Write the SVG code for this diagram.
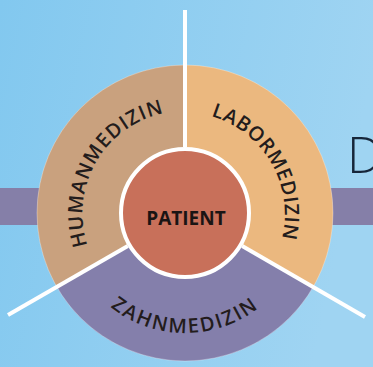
<svg xmlns="http://www.w3.org/2000/svg" width="373" height="367" viewBox="0 0 373 367">
<defs>
<linearGradient id="bg" x1="0" y1="0" x2="1" y2="0.2">
<stop offset="0" stop-color="#82c8ef"/>
<stop offset="1" stop-color="#9fd4f2"/>
</linearGradient>
<path id="pHuman" d="M133.5,302.2 A102,102 0 0,1 236.5,124.7"/>
<path id="pLabor" d="M134,124.7 A102,102 0 0,1 236,301.3"/>
<path id="pZahn" d="M65,213 A120,120 0 0,0 305,213"/>
</defs>
<style>
.ring{font-family:"Open Sans","DejaVu Sans",sans-serif;font-size:20px;font-weight:600;fill:#231c1c;}
.sep{stroke:#ffffff;stroke-width:4;fill:none;stroke-linecap:butt;}
</style>
<rect width="373" height="367" fill="url(#bg)"/>
<rect x="0" y="188" width="373" height="37" fill="#857fa8"/>
<text x="347" y="173" font-family="Open Sans, sans-serif" font-weight="300" font-size="50" fill="#16263a">D</text>
<g id="humanmedizin">
<path d="M185,213 L185,65 A148,148 0 0,0 56.8,287 Z" fill="#c9a17e"/>
<text class="ring" letter-spacing="1"><textPath href="#pHuman" startOffset="50%" text-anchor="middle">HUMANMEDIZIN</textPath></text>
</g>
<g id="labormedizin">
<path d="M185,213 L185,65 A148,148 0 0,1 313.2,287 Z" fill="#ebb87f"/>
<text class="ring" letter-spacing="0.6"><textPath href="#pLabor" startOffset="50%" text-anchor="middle">LABORMEDIZIN</textPath></text>
</g>
<g id="zahnmedizin">
<path d="M185,213 L56.8,287 A148,148 0 0,0 313.2,287 Z" fill="#847fab"/>
<text class="ring" letter-spacing="2"><textPath href="#pZahn" startOffset="50%" text-anchor="middle">ZAHNMEDIZIN</textPath></text>
</g>
<circle cx="185" cy="213" r="148" fill="none" stroke="#ffffff" stroke-opacity="0.3" stroke-width="1"/>
<g id="connectors">
<line class="sep" x1="185" y1="147" x2="185" y2="10"/>
<line class="sep" x1="127.8" y1="246" x2="8" y2="315"/>
<line class="sep" x1="242.2" y1="246" x2="365" y2="317"/>
</g>
<g id="patient">
<circle cx="185" cy="213" r="64" fill="#c8705a" stroke="#ffffff" stroke-width="4"/>
<text x="186" y="225" text-anchor="middle" font-family="Open Sans, sans-serif" font-weight="700" font-size="19" fill="#1a1414">PATIENT</text>
</g>
</svg>
